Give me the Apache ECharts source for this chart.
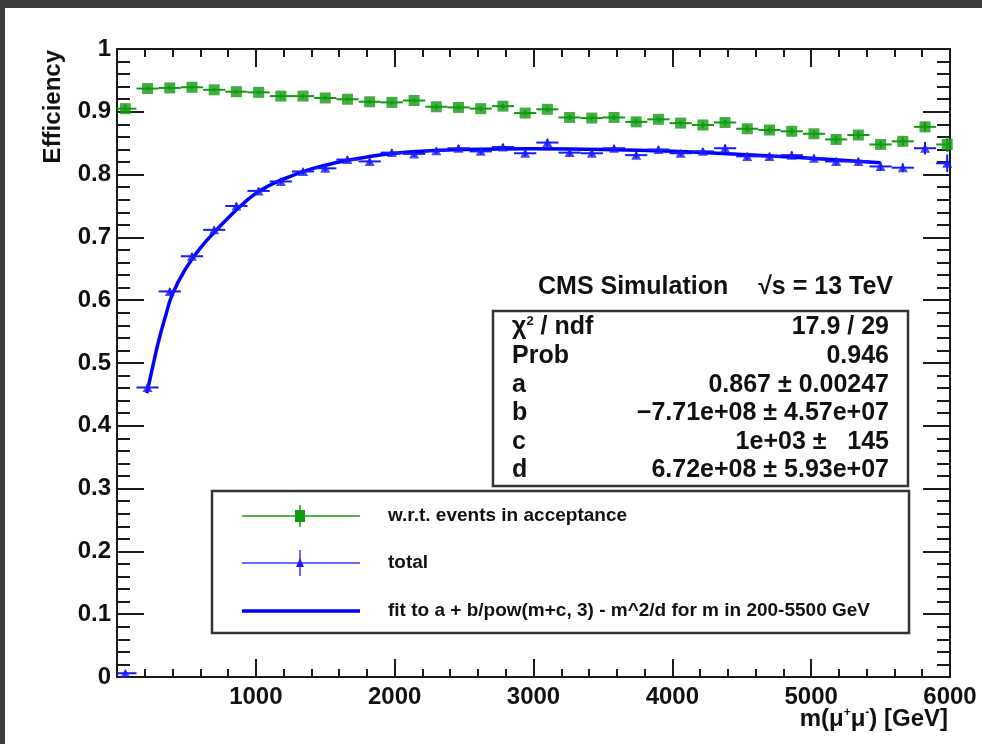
<!DOCTYPE html>
<html>
<head>
<meta charset="utf-8">
<script src="https://cdn.jsdelivr.net/npm/echarts@6/dist/echarts.min.js"></script>
<style>
html,body{margin:0;padding:0;background:#fff;}
#chart{width:982px;height:744px;}
</style>
</head>
<body>
<div id="chart"></div>
<script>
// ---- data ----
const massBins = [60, 220, 380, 540, 700, 860, 1020, 1180, 1340, 1500, 1660, 1820, 1980, 2140, 2300, 2460, 2620, 2780, 2940, 3100, 3260, 3420, 3580, 3740, 3900, 4060, 4220, 4380, 4540, 4700, 4860, 5020, 5180, 5340, 5500, 5660, 5820, 5980];
const binHalfWidth = 80;
const effAcceptance = [0.905, 0.937, 0.938, 0.939, 0.935, 0.932, 0.931, 0.925, 0.925, 0.922, 0.920, 0.916, 0.915, 0.918, 0.908, 0.907, 0.905, 0.909, 0.898, 0.904, 0.891, 0.890, 0.891, 0.884, 0.888, 0.882, 0.879, 0.883, 0.873, 0.871, 0.869, 0.865, 0.856, 0.863, 0.848, 0.853, 0.876, 0.848];
const errAcceptance = [0.006, 0.003, 0.003, 0.003, 0.003, 0.003, 0.003, 0.003, 0.003, 0.003, 0.003, 0.003, 0.003, 0.003, 0.004, 0.004, 0.004, 0.004, 0.004, 0.004, 0.004, 0.004, 0.004, 0.004, 0.004, 0.004, 0.005, 0.005, 0.005, 0.005, 0.005, 0.005, 0.006, 0.006, 0.006, 0.007, 0.008, 0.012];
const effTotal = [0.006, 0.461, 0.614, 0.670, 0.712, 0.750, 0.774, 0.789, 0.805, 0.810, 0.824, 0.821, 0.835, 0.833, 0.838, 0.842, 0.837, 0.844, 0.834, 0.851, 0.835, 0.834, 0.842, 0.831, 0.840, 0.834, 0.837, 0.842, 0.829, 0.829, 0.831, 0.826, 0.821, 0.821, 0.813, 0.811, 0.842, 0.818];
const errTotal = [0.004, 0.006, 0.005, 0.005, 0.005, 0.005, 0.005, 0.005, 0.005, 0.005, 0.005, 0.005, 0.005, 0.005, 0.005, 0.005, 0.005, 0.005, 0.005, 0.006, 0.005, 0.005, 0.005, 0.005, 0.005, 0.005, 0.005, 0.006, 0.006, 0.006, 0.006, 0.006, 0.006, 0.006, 0.007, 0.007, 0.010, 0.014];
const fitMass = [215, 260, 300, 350, 400, 500, 600, 700, 800, 900, 1000, 1100, 1200, 1400, 1600, 1800, 2000, 2250, 2500, 3000, 3500, 4000, 4500, 5000, 5500];
const fitEff = [0.452, 0.497, 0.535, 0.575, 0.610, 0.652, 0.683, 0.708, 0.731, 0.752, 0.770, 0.783, 0.793, 0.809, 0.820, 0.828, 0.834, 0.838, 0.840, 0.841, 0.840, 0.837, 0.832, 0.826, 0.819];
const xTickLabels = ['', '1000', '2000', '3000', '4000', '5000', '6000'];
const statRows = [
  ['{n|χ}{s|2}{n| / ndf}', '17.9 / 29'],
  ['Prob', '0.946'],
  ['a', '0.867 ± 0.00247'],
  ['b', '−7.71e+08 ± 4.57e+07'],
  ['c', '1e+03 ±   145'],
  ['d', '6.72e+08 ± 5.93e+07']
];
const legendLabels = ['w.r.t. events in acceptance', 'total', 'fit to a + b/pow(m+c, 3) - m^2/d for m in 200-5500 GeV'];

// ---- styling ----
const FONT = '"Liberation Sans", Arial, Helvetica, sans-serif';
const GREEN = '#129a12';
const BLUE = '#1a1aff';
const FITBLUE = '#0000ff';
const AXIS = '#1a1a1a';

const accData = massBins.map((m, i) => [m, effAcceptance[i], errAcceptance[i]]);
const totData = massBins.map((m, i) => [m, effTotal[i], errTotal[i]]);
const fitData = fitMass.map((m, i) => [m, fitEff[i]]);

function errorBars(color) {
  return function (params, api) {
    const x = api.value(0), y = api.value(1), e = api.value(2);
    const l = api.coord([Math.max(x - binHalfWidth, 0), y]);
    const r = api.coord([Math.min(x + binHalfWidth, 6000), y]);
    const t = api.coord([x, y + e]);
    const b = api.coord([x, y - e]);
    return {
      type: 'group',
      children: [
        {type: 'line', shape: {x1: l[0], y1: l[1], x2: r[0], y2: r[1]}, style: {stroke: color, lineWidth: 2}},
        {type: 'line', shape: {x1: t[0], y1: t[1], x2: b[0], y2: b[1]}, style: {stroke: color, lineWidth: 2}}
      ]
    };
  };
}

const tickLabelStyle = {fontFamily: FONT, fontWeight: 'bold', fontSize: 24, color: '#111'};

const graphics = [];
// dark frame strips of the screenshot
graphics.push({type: 'rect', shape: {x: 0, y: 0, width: 982, height: 8}, style: {fill: '#3d3d3d'}, z: 100});
graphics.push({type: 'rect', shape: {x: 0, y: 0, width: 5, height: 744}, style: {fill: '#3d3d3d'}, z: 100});

// axis titles
graphics.push({type: 'text', x: 53, y: 50, rotation: Math.PI / 2,
  style: {text: 'Efficiency', fontFamily: FONT, fontWeight: 'bold', fontSize: 24, fill: '#111', align: 'right', verticalAlign: 'middle'}});
graphics.push({type: 'text', x: 948, y: 719,
  style: {text: '{n|m(μ}{s|+}{n|μ}{s|-}{n|) [GeV]}', align: 'right', verticalAlign: 'middle',
    rich: {n: {fontFamily: FONT, fontWeight: 'bold', fontSize: 24, fill: '#111'},
           s: {fontFamily: FONT, fontWeight: 'bold', fontSize: 12, fill: '#111', padding: [0, 0, 12, 0]}}}});

// CMS label
graphics.push({type: 'text', x: 538, y: 287, style: {text: 'CMS Simulation', fontFamily: FONT, fontWeight: 'bold', fontSize: 25, fill: '#111', align: 'left', verticalAlign: 'middle'}});
graphics.push({type: 'text', x: 893, y: 287, style: {text: '√s = 13 TeV', fontFamily: FONT, fontWeight: 'bold', fontSize: 25, fill: '#111', align: 'right', verticalAlign: 'middle'}});

// stat box
graphics.push({type: 'rect', shape: {x: 493, y: 311, width: 415, height: 175}, style: {fill: '#fff', stroke: '#333', lineWidth: 2.5}, z: 10});
const rowY = [327, 356, 385, 413, 442, 470];
statRows.forEach((row, i) => {
  graphics.push({type: 'text', x: 512, y: rowY[i], z: 11, style: {text: row[0], fontFamily: FONT, fontWeight: 'bold', fontSize: 25, fill: '#111', align: 'left', verticalAlign: 'middle',
    rich: {n: {fontFamily: FONT, fontWeight: 'bold', fontSize: 25, fill: '#111'}, s: {fontFamily: FONT, fontWeight: 'bold', fontSize: 13, fill: '#111', padding: [0, 0, 11, 0]}}}});
  graphics.push({type: 'text', x: 889, y: rowY[i], z: 11, style: {text: row[1], fontFamily: FONT, fontWeight: 'bold', fontSize: 25, fill: '#111', align: 'right', verticalAlign: 'middle'}});
});

// legend box
graphics.push({type: 'rect', shape: {x: 212, y: 491, width: 697, height: 142}, style: {fill: '#fff', stroke: '#333', lineWidth: 2.5}, z: 10});
const legY = [516, 563, 611];
// entry 1: green
graphics.push({type: 'line', z: 11, shape: {x1: 242, y1: legY[0], x2: 360, y2: legY[0]}, style: {stroke: '#4cb84c', lineWidth: 2}});
graphics.push({type: 'line', z: 11, shape: {x1: 300, y1: legY[0] - 11, x2: 300, y2: legY[0] + 11}, style: {stroke: '#4cb84c', lineWidth: 2}});
graphics.push({type: 'rect', z: 12, shape: {x: 295, y: legY[0] - 6, width: 10, height: 12}, style: {fill: GREEN}});
// entry 2: blue
graphics.push({type: 'line', z: 11, shape: {x1: 242, y1: legY[1], x2: 360, y2: legY[1]}, style: {stroke: '#6a6aff', lineWidth: 2}});
graphics.push({type: 'line', z: 11, shape: {x1: 300, y1: legY[1] - 13, x2: 300, y2: legY[1] + 13}, style: {stroke: '#6a6aff', lineWidth: 2}});
graphics.push({type: 'polygon', z: 12, shape: {points: [[300, legY[1] - 5], [304, legY[1] + 4], [296, legY[1] + 4]]}, style: {fill: BLUE}});
// entry 3: fit line
graphics.push({type: 'line', z: 11, shape: {x1: 242, y1: legY[2], x2: 360, y2: legY[2]}, style: {stroke: FITBLUE, lineWidth: 3.5}});
legendLabels.forEach((t, i) => {
  graphics.push({type: 'text', x: 388, y: legY[i], z: 11, style: {text: t, fontFamily: FONT, fontWeight: 'bold', fontSize: 19, fill: '#111', align: 'left', verticalAlign: 'middle'}});
});

const option = {
  backgroundColor: '#fff',
  animation: false,
  grid: {left: 117, top: 49, width: 833, height: 628, containLabel: false},
  xAxis: [{
    type: 'value', min: 0, max: 6000, interval: 1000, position: 'bottom',
    axisLine: {show: true, onZero: false, lineStyle: {color: AXIS, width: 2}},
    axisTick: {show: true, inside: true, length: 18, lineStyle: {color: AXIS, width: 2}},
    minorTick: {show: true, splitNumber: 5, length: 8, lineStyle: {color: AXIS, width: 2}},
    axisLabel: Object.assign({margin: 8, formatter: (v) => xTickLabels[Math.round(v / 1000)]}, tickLabelStyle),
    splitLine: {show: false}
  }, {
    type: 'value', min: 0, max: 6000, interval: 1000, position: 'top',
    axisLine: {show: true, onZero: false, lineStyle: {color: AXIS, width: 2}},
    axisTick: {show: true, inside: true, length: 18, lineStyle: {color: AXIS, width: 2}},
    minorTick: {show: true, splitNumber: 5, length: 8, lineStyle: {color: AXIS, width: 2}},
    axisLabel: {show: false}, splitLine: {show: false}
  }],
  yAxis: [{
    type: 'value', min: 0, max: 1, interval: 0.1, position: 'left',
    axisLine: {show: true, onZero: false, lineStyle: {color: AXIS, width: 2}},
    axisTick: {show: true, inside: true, length: 27, lineStyle: {color: AXIS, width: 2}},
    minorTick: {show: true, splitNumber: 5, length: 13, lineStyle: {color: AXIS, width: 2}},
    axisLabel: Object.assign({margin: 6}, tickLabelStyle),
    splitLine: {show: false}
  }, {
    type: 'value', min: 0, max: 1, interval: 0.1, position: 'right',
    axisLine: {show: true, onZero: false, lineStyle: {color: AXIS, width: 2}},
    axisTick: {show: true, inside: true, length: 27, lineStyle: {color: AXIS, width: 2}},
    minorTick: {show: true, splitNumber: 5, length: 13, lineStyle: {color: AXIS, width: 2}},
    axisLabel: {show: false}, splitLine: {show: false}
  }],
  series: [
    {name: 'acc-err', type: 'custom', renderItem: errorBars(GREEN), data: accData, z: 3, silent: true},
    {name: 'w.r.t. events in acceptance', type: 'scatter', data: accData, symbol: 'rect', symbolSize: [11, 11], itemStyle: {color: GREEN}, z: 4},
    {name: 'fit', type: 'line', data: fitData, smooth: true, showSymbol: false, lineStyle: {color: FITBLUE, width: 3.5}, z: 2},
    {name: 'tot-err', type: 'custom', renderItem: errorBars(BLUE), data: totData, z: 5, silent: true},
    {name: 'total', type: 'scatter', data: totData, symbol: 'triangle', symbolSize: [10, 9], itemStyle: {color: BLUE}, z: 6}
  ],
  graphic: graphics
};

const chart = echarts.init(document.getElementById('chart'), null, {renderer: 'canvas'});
chart.setOption(option);
</script>
</body>
</html>
